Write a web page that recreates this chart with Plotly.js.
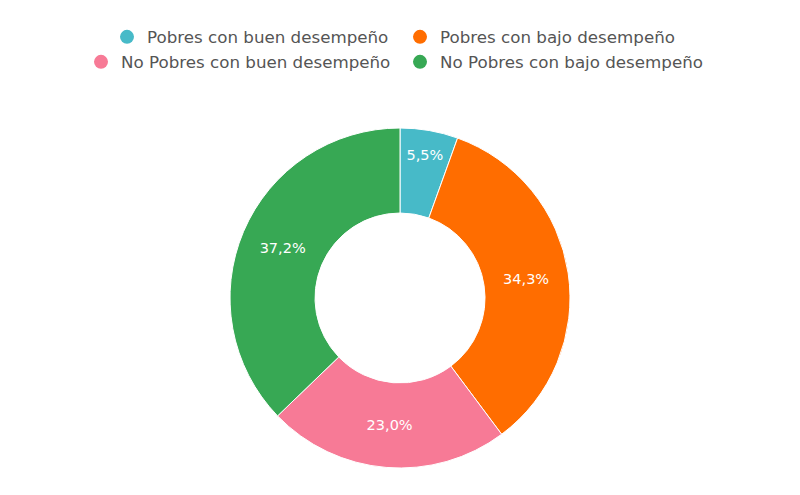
<!DOCTYPE html>
<html>
<head>
<meta charset="utf-8">
<script src="https://cdn.plot.ly/plotly-3.0.1.min.js"></script>
<style>
  html, body { margin: 0; padding: 0; background: #fff; }
  #chart { width: 800px; height: 495px; }
</style>
</head>
<body>
<div id="chart"></div>
<script>
const categories = [
    "Pobres con buen desempeño",
    "Pobres con bajo desempeño",
    "No Pobres con buen desempeño",
    "No Pobres con bajo desempeño",
];
const shares = [5.5, 34.3, 23.0, 37.2];
const colors = ["#47bac8", "#ff6d00", "#f77a96", "#37a854"];

// legend rows: first two entries on top row, last two below
const legendOf = ["legend", "legend", "legend2", "legend2"];

const font = "DejaVu Sans, Verdana, sans-serif";

const data = [
    {
        type: "pie",
        labels: categories,
        values: shares,
        hole: 0.5,
        sort: false,
        direction: "clockwise",
        rotation: 0,
        showlegend: false,
        marker: { colors: colors, line: { color: "#ffffff", width: 1 } },
        texttemplate: "%{percent:.1%}",
        textposition: "inside",
        insidetextorientation: "horizontal",
        textfont: { family: font, size: 14.5, color: "#ffffff" },
        hoverinfo: "label+percent",
    },
];

// dummy traces only to get round legend markers
for (let i = 0; i < categories.length; i++) {
    data.push({
        type: "scatter",
        mode: "markers",
        x: [null],
        y: [null],
        name: categories[i],
        legend: legendOf[i],
        marker: { color: colors[i], size: 14, symbol: "circle" },
        hoverinfo: "skip",
    });
}

const legendBase = {
    orientation: "h",
    xanchor: "center",
    x: 0.5,
    yref: "container",
    yanchor: "middle",
    entrywidthmode: "pixels",
    font: { family: font, size: 16.7, color: "#555555" },
    bgcolor: "rgba(0,0,0,0)",
    itemclick: false,
};

const layout = {
    width: 800,
    height: 495,
    margin: { t: 128, b: 27, l: 0, r: 0 },
    paper_bgcolor: "#ffffff",
    plot_bgcolor: "#ffffff",
    separators: ",.",
    xaxis: { visible: false },
    yaxis: { visible: false },
    legend: Object.assign({}, legendBase, { y: 1 - 37 / 495, entrywidth: 248 }),
    legend2: Object.assign({}, legendBase, { y: 1 - 62 / 495, entrywidth: 274 }),
};

Plotly.newPlot("chart", data, layout, { displayModeBar: false });
</script>
</body>
</html>
